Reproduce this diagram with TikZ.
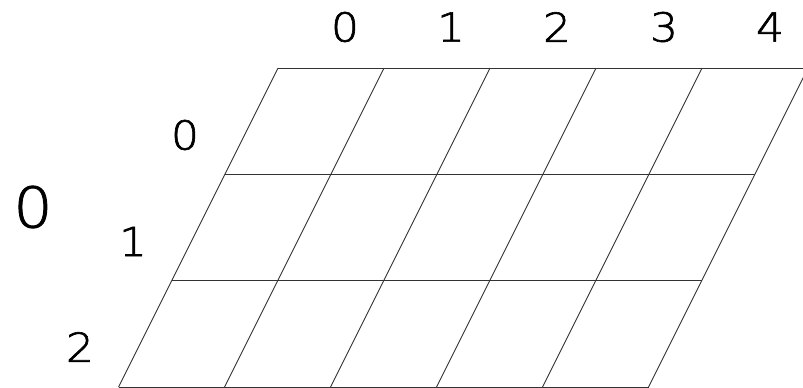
\documentclass[tikz,border=0pt]{standalone}
\usepackage{fontspec}
\setmainfont{DejaVu Sans}
\newfontfamily\thinfont[FakeStretch=1.1,FakeBold=1.6]{DejaVu Sans ExtraLight}
\begin{document}
\begin{tikzpicture}[x=1pt,y=-1pt,
  gridline/.style={line width=0.9pt,draw=black!80},
  lab/.style={inner sep=0pt,font=\thinfont\fontsize{40}{40}\selectfont},
  biglab/.style={inner sep=0pt,font=\thinfont\fontsize{56}{56}\selectfont}]
\useasboundingbox (0,0) rectangle (803,388);
\clip (0,0) rectangle (803,388);
% corner coordinates
\foreach \j/\y/\xl in {0/68/278,1/174.33/224.83,2/280.67/171.67,3/387/118.5}{
  \foreach \i in {0,...,5}{
    \coordinate (p\i-\j) at ({\xl+106*\i},\y);
  }
}
% horizontal lines
\foreach \j in {0,1,2,3}{
  \draw[gridline] (p0-\j) -- (p5-\j);
}
% slanted lines
\foreach \i in {0,...,5}{
  \draw[gridline] (p\i-0) -- (p\i-3);
}
% column labels
\node[lab] (c0) at (345,27) {0};
\node[lab] (c1) at (451,27) {1};
\node[lab] (c2) at (557,27) {2};
\node[lab] (c3) at (664,27) {3};
\node[lab] (c4) at (770,27) {4};
% row labels
\node[lab] (r0) at (185,135) {0};
\node[lab] (r1) at (133,241.5) {1};
\node[lab] (r2) at (80,347) {2};
% big label
\node[biglab] (big) at (33,207) {0};
\end{tikzpicture}
\end{document}
